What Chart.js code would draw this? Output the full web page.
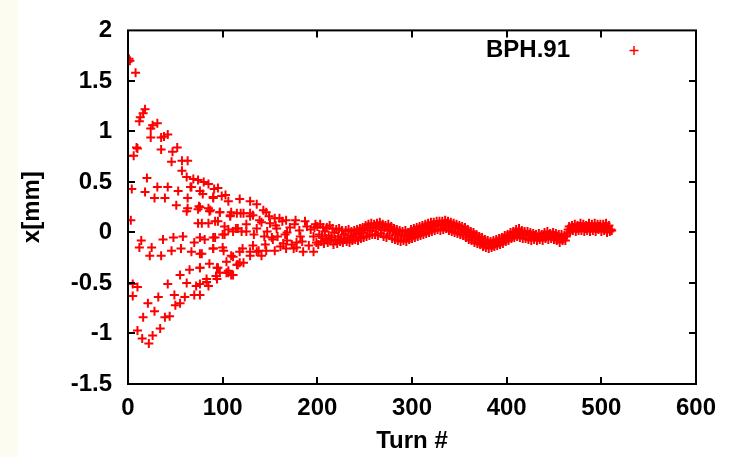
<!DOCTYPE html>
<html>
<head>
<meta charset="utf-8">
<script src="https://cdn.jsdelivr.net/npm/chart.js@4/dist/chart.umd.min.js"></script>
<style>
  html, body { margin: 0; padding: 0; background: #fff; }
  #wrap { width: 733px; height: 457px; }
</style>
</head>
<body>
<div id="wrap"><canvas id="c" width="733" height="457"></canvas></div>
<script>
// BPH.91 horizontal position per turn

// early turns: decohering oscillation, listed band by band
const earlyTurns = [
  // top band
  0, 1, 2, 8, 12, 13, 16, 18, 24, 26, 31, 38, 42, 47, 52, 57, 63, 69, 74, 76,
  80, 85, 90, 91, 95, 99, 103, 106, 118, 129, 136, 143, 146, 155, 160, 167, 177, 187, 198,
  // second band
  0, 6, 9, 10, 24, 35, 35, 46, 57, 62, 67, 79, 90,
  // upper-middle band
  4, 18, 20, 28, 31, 39, 42, 51, 53, 62, 63, 63, 66, 74, 75, 76, 85, 86, 87, 97,
  97, 108, 109, 115, 122, 129, 132, 139, 150, 157, 168, 182, 196,
  // ~0.1 band
  3, 74, 78, 85, 92, 95, 102, 108, 114, 119, 125, 129, 136, 147, 158, 168, 178,
  // ~-0.1 band
  12, 14, 25, 37, 48, 58, 70, 76, 81, 90, 92, 100, 102, 106, 111, 116, 120, 125, 133, 144,
  153, 164, 175, 185, 196,
  // ~-0.2 band
  23, 35, 46, 56, 67, 76, 78, 90, 90, 100, 101, 109, 111, 118, 121, 129, 132, 138, 146, 155, 167, 178,
  // ~-0.35 band
  55, 65, 76, 76, 83, 86, 94, 95, 104, 106, 115, 116, 122, 129, 136, 141,
  // ~-0.5 band
  5, 10, 5, 42, 62, 72, 76, 83, 85, 93, 94, 97, 104, 106, 109, 111, 118,
  // ~-0.7 band
  21, 28, 32, 39, 44, 49, 50, 55, 60, 70, 76,
  // bottom band
  10, 15, 16, 22, 26, 34,
  // converging region
  141, 145, 149, 152, 156, 161, 163, 166, 171, 173, 176, 181, 184, 189, 191, 193, 197, 199
];
const earlyValues = [
  1.69, 1.72, 1.70, 1.58, 1.10, 1.14, 1.18, 1.22, 1.03, 1.06, 1.08, 0.95, 0.97, 0.80, 0.84, 0.71, 0.71, 0.53, 0.52, 0.41,
  0.50, 0.48, 0.35, 0.43, 0.44, 0.36, 0.37, 0.31, 0.33, 0.31, 0.28, 0.22, 0.20, 0.14, 0.14, 0.12, 0.12, 0.11, 0.08,
  0.76, 0.76, 0.84, 0.83, 0.94, 0.94, 0.82, 0.70, 0.61, 0.55, 0.45, 0.38, 0.34,
  0.43, 0.40, 0.54, 0.34, 0.45, 0.34, 0.45, 0.27, 0.41, 0.21, 0.34, 0.24, 0.45, 0.23, 0.26, 0.25, 0.24, 0.21, 0.22, 0.20,
  0.20, 0.17, 0.20, 0.19, 0.19, 0.19, 0.17, 0.12, 0.09, 0.04, 0.00, -0.04, -0.04,
  0.12, 0.09, 0.09, 0.09, 0.11, 0.11, 0.06, 0.16, 0.04, 0.19, 0.08, 0.16, 0.04, 0.01, -0.04, -0.08, -0.10,
  -0.15, -0.08, -0.15, -0.07, -0.05, -0.04, -0.10, -0.05, -0.07, -0.05, -0.05, -0.02, -0.02, 0.03, 0.01, 0.04, 0.01, 0.01, -0.02, -0.04,
  -0.07, -0.11, -0.16, -0.19, -0.19,
  -0.23, -0.23, -0.18, -0.16, -0.19, -0.21, -0.21, -0.16, -0.16, -0.15, -0.18, -0.23, -0.24, -0.19, -0.16, -0.19, -0.13, -0.18, -0.18, -0.18, -0.16, -0.15,
  -0.42, -0.37, -0.35, -0.35, -0.46, -0.31, -0.35, -0.35, -0.29, -0.38, -0.32, -0.32, -0.30, -0.23, -0.19, -0.23,
  -0.51, -0.54, -0.63, -0.51, -0.50, -0.53, -0.51, -0.49, -0.53, -0.43, -0.46, -0.40, -0.40, -0.40, -0.42, -0.42, -0.30,
  -0.70, -0.78, -0.64, -0.84, -0.83, -0.62, -0.72, -0.70, -0.64, -0.62, -0.62,
  -0.97, -1.05, -0.84, -1.10, -1.02, -0.95,
  0.10, -0.12, 0.16, -0.05, 0.07, -0.14, 0.11, -0.02, 0.05, -0.12, 0.08, 0.02, -0.09, 0.06, -0.13, 0.03, 0.05, -0.10
];

// later turns: one reading per turn starting at denseStart
const denseStart = 200;
const denseValues = [
  0.06, -0.12, -0.02, 0.08, -0.09, -0.04, 0.05, -0.11, 0.01, -0.06,
  0.05, -0.10, -0.03, 0.07, -0.08, -0.05, 0.04, -0.12, 0.00, -0.07,
  0.03, -0.11, -0.04, 0.04, -0.09, -0.06, 0.02, -0.10, -0.02, -0.07,
  0.02, -0.09, -0.05, 0.03, -0.10, -0.03, 0.01, -0.08, -0.04, 0.02,
  -0.07, -0.02, 0.03, -0.08, -0.01, 0.04, -0.06, 0.00, 0.05, -0.05,
  0.03, 0.07, -0.04, 0.02, 0.08, -0.03, 0.04, 0.09, -0.02, 0.05,
  0.08, -0.02, 0.04, 0.09, -0.03, 0.06, 0.10, -0.01, 0.03, 0.08,
  -0.04, 0.05, 0.07, -0.05, 0.02, 0.08, -0.03, 0.03, 0.06, -0.06,
  0.01, 0.04, -0.07, -0.01, 0.03, -0.08, -0.02, 0.02, -0.09, -0.03,
  0.01, -0.08, -0.04, 0.02, -0.09, -0.03, 0.00, -0.07, -0.02, 0.03,
  -0.06, -0.01, 0.04, -0.05, 0.00, 0.05, -0.04, 0.01, 0.06, -0.03,
  0.03, 0.07, -0.02, 0.04, 0.08, -0.01, 0.05, 0.09, 0.00, 0.06,
  0.10, 0.01, 0.06, 0.10, 0.02, 0.07, 0.11, 0.03, 0.08, 0.11,
  0.02, 0.07, 0.11, 0.03, 0.08, 0.12, 0.04, 0.09, 0.11, 0.02,
  0.07, 0.10, 0.01, 0.06, 0.09, 0.00, 0.05, 0.08, -0.01, 0.04,
  0.07, -0.02, 0.03, 0.06, -0.03, 0.01, 0.05, -0.05, 0.00, 0.03,
  -0.07, -0.02, 0.01, -0.08, -0.04, 0.00, -0.10, -0.05, -0.02, -0.11,
  -0.07, -0.04, -0.12, -0.09, -0.05, -0.14, -0.10, -0.07, -0.15, -0.11,
  -0.08, -0.16, -0.12, -0.09, -0.15, -0.13, -0.08, -0.14, -0.11, -0.07,
  -0.13, -0.10, -0.06, -0.12, -0.09, -0.05, -0.11, -0.07, -0.03, -0.09,
  -0.06, -0.02, -0.08, -0.04, 0.00, -0.06, -0.03, 0.01, -0.05, -0.01,
  0.03, -0.04, 0.00, 0.04, -0.05, -0.01, 0.02, -0.06, -0.02, 0.01,
  -0.06, -0.03, 0.01, -0.07, -0.02, 0.00, -0.08, -0.04, -0.01, -0.07,
  -0.03, -0.02, -0.08, -0.05, -0.01, -0.07, -0.04, -0.02, -0.08, -0.03,
  0.00, -0.06, -0.03, 0.01, -0.07, -0.02, -0.01, -0.06, -0.04, 0.00,
  -0.07, -0.03, -0.01, -0.08, -0.04, -0.02, -0.10, -0.05, -0.02, -0.08,
  -0.06, -0.03, -0.08, -0.04, -0.01, 0.03, 0.06, 0.01, 0.04, 0.07,
  0.02, 0.05, 0.08, 0.01, 0.04, 0.07, 0.02, 0.06, 0.09, 0.02,
  0.05, 0.08, 0.01, 0.04, 0.07, 0.02, 0.06, 0.09, 0.01, 0.05,
  0.08, 0.02, 0.05, 0.09, 0.01, 0.04, 0.08, 0.03, 0.06, 0.08,
  0.01, 0.05, 0.08, 0.02, 0.06, 0.09, 0.00, 0.04, 0.07, 0.01,
  0.03, 0.02
];

const seriesLabel = 'BPH.91';
const xTickStep = 100;
const yTickStep = 0.5;

const points = earlyTurns.map((t, i) => ({ x: t, y: earlyValues[i] }))
  .concat(denseValues.map((v, i) => ({ x: denseStart + i, y: v })));

const FONT_FAMILY = '"Liberation Sans", Arial, Helvetica, sans-serif';
const axisFont = { family: FONT_FAMILY, size: 24, weight: 'bold' };
const RED = '#ff0000';
const TICK = 7;

// gnuplot-like frame, inward ticks, key, page background
const gnuFrame = {
  id: 'gnuFrame',
  beforeDraw(chart) {
    const ctx = chart.ctx;
    ctx.save();
    ctx.fillStyle = '#ffffff';
    ctx.fillRect(0, 0, chart.width, chart.height);
    ctx.fillStyle = '#fdfcf0';
    ctx.fillRect(0, 0, 18, chart.height);
    ctx.restore();
  },
  afterDatasetsDraw(chart) {
    const { ctx, chartArea: a, scales: { x, y } } = chart;
    ctx.save();
    ctx.strokeStyle = '#000';
    ctx.lineWidth = 2;
    ctx.strokeRect(a.left, a.top, a.right - a.left, a.bottom - a.top);

    ctx.beginPath();
    x.ticks.forEach(t => {
      if (t.value <= x.min || t.value >= x.max) return;
      const px = Math.round(x.getPixelForValue(t.value));
      ctx.moveTo(px, a.bottom); ctx.lineTo(px, a.bottom - TICK);
      ctx.moveTo(px, a.top); ctx.lineTo(px, a.top + TICK);
    });
    y.ticks.forEach(t => {
      if (t.value <= y.min || t.value >= y.max) return;
      const py = Math.round(y.getPixelForValue(t.value));
      ctx.moveTo(a.left, py); ctx.lineTo(a.left + TICK, py);
      ctx.moveTo(a.right, py); ctx.lineTo(a.right - TICK, py);
    });
    ctx.stroke();

    // key (top right, text then sample)
    const ky = a.top + 20;
    ctx.fillStyle = '#000';
    ctx.font = 'bold 24px ' + FONT_FAMILY;
    ctx.textAlign = 'right';
    ctx.textBaseline = 'middle';
    ctx.fillText(seriesLabel, a.right - 126, ky);
    const kx = a.right - 62;
    ctx.strokeStyle = RED;
    ctx.lineWidth = 1.5;
    ctx.beginPath();
    ctx.moveTo(kx - 4.5, ky); ctx.lineTo(kx + 4.5, ky);
    ctx.moveTo(kx, ky - 4.5); ctx.lineTo(kx, ky + 4.5);
    ctx.stroke();
    ctx.restore();
  }
};

new Chart(document.getElementById('c'), {
  type: 'scatter',
  data: {
    datasets: [{
      label: seriesLabel,
      data: points,
      showLine: false,
      pointStyle: 'cross',
      pointRadius: 4.5,
      pointHoverRadius: 4.5,
      pointBorderWidth: 2,
      pointBorderColor: RED,
      pointBackgroundColor: RED,
      borderColor: RED,
      backgroundColor: RED
    }]
  },
  options: {
    responsive: false,
    animation: false,
    events: [],
    layout: { padding: { left: 0, top: 16, right: 37, bottom: 0 } },
    plugins: {
      legend: { display: false },
      tooltip: { enabled: false }
    },
    scales: {
      x: {
        type: 'linear',
        min: 0,
        max: 600,
        grid: { display: false, drawTicks: false },
        border: { display: false },
        ticks: { stepSize: xTickStep, padding: 10, color: '#000', font: axisFont, maxRotation: 0,
                 callback: v => String(v) },
        title: { display: true, text: 'Turn #', color: '#000', font: axisFont, padding: { top: 0, bottom: 1 } },
        afterFit(scale) { scale.height = 73; }
      },
      y: {
        min: -1.5,
        max: 2,
        grid: { display: false, drawTicks: false },
        border: { display: false },
        ticks: { stepSize: yTickStep, padding: 16, color: '#000', font: axisFont,
                 callback: v => String(v) },
        title: { display: true, text: 'x[mm]', color: '#000', font: axisFont, padding: { top: 18, bottom: 0 } },
        afterFit(scale) { scale.width = 128; }
      }
    }
  },
  plugins: [gnuFrame]
});
</script>
</body>
</html>
